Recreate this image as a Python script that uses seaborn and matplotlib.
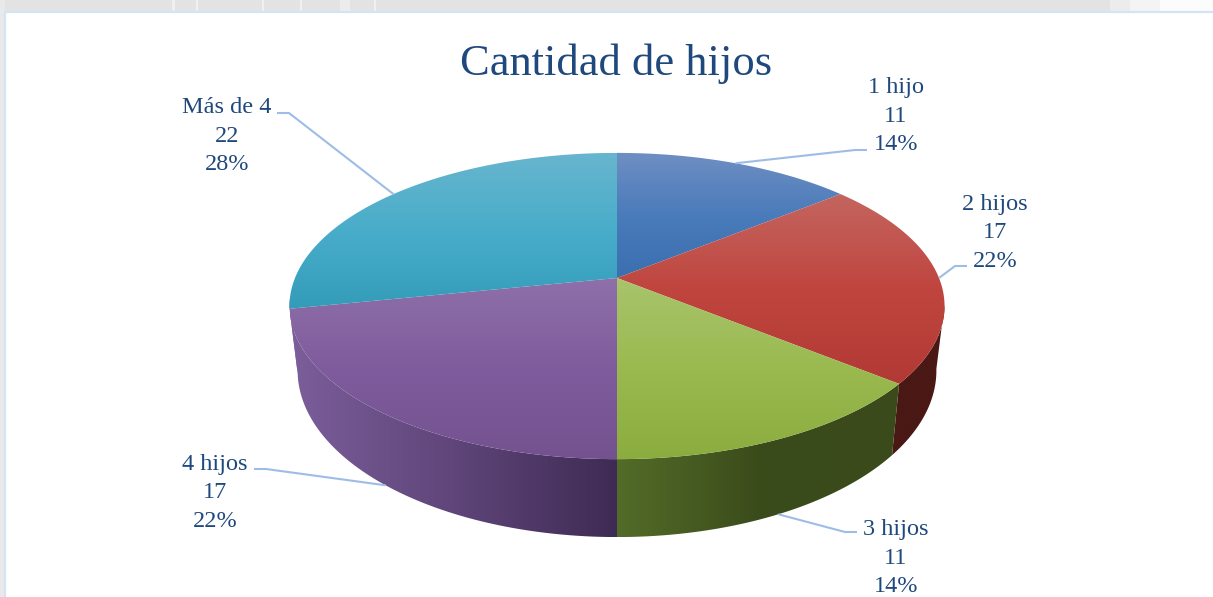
import numpy as np
import matplotlib
matplotlib.use("Agg")
import matplotlib.pyplot as plt
from matplotlib.patches import Polygon
import seaborn as sns

# data
categories = ["1 hijo", "2 hijos", "3 hijos", "4 hijos", "Más de 4"]
counts = [11, 17, 11, 17, 22]
percents = ["14%", "22%", "14%", "22%", "28%"]

# top face gradient (top to bottom), side gradient (left to right)
top_colors = [
    ["#6f8fc3", "#4a7bba", "#3b6fb0"],
    ["#c4655f", "#c0453f", "#b23a34"],
    ["#a9c46c", "#9aba50", "#8bac3e"],
    ["#8f70a9", "#7f5c9d", "#74528f"],
    ["#68b5ce", "#48adca", "#339cb9"],
]
side_colors = [
    ["#3a5a8a", "#3a5a8a"],
    ["#4a1815", "#4a1815"],
    ["#536c28", "#3b4c1b", "#3a4a1b"],
    ["#7b5e9b", "#5f4579", "#3e2b54"],
    ["#7b5e9b", "#7b5e9b"],
]
label_pos = [(896, 116), (995, 233), (896, 558), (215, 493), (227, 136)]
elbows = [[(867, 150), (855, 150)], [(967, 266), (955, 266)], [(857, 532), (845, 532)],
          [(254, 469), (266, 469)], [(277, 113), (289, 113)]]

LINE = "#9dbde6"
TEXT = "#1f497d"
CX = 617
KP = 0.183


def project(theta, a, b, y0):
    # theta in degrees clockwise from 12 o'clock, with perspective
    t = np.radians(theta)
    xx, yy = np.sin(t), np.cos(t)
    d = 1 + KP * yy
    return CX + a * xx / d, y0 - b * yy / d


def top_pt(theta):
    return project(theta, 322, 148, 278)


def low_pt(theta):
    return project(theta, 314, 161, 340)


def gradient_fill(ax, pts, colors, vertical, z):
    pts = np.array(pts)
    x0, x1 = pts[:, 0].min(), pts[:, 0].max()
    y0, y1 = pts[:, 1].min(), pts[:, 1].max()
    cmap = sns.blend_palette(colors, n_colors=256, as_cmap=True)
    ramp = np.linspace(0, 1, 256)
    img = ramp[:, None] if vertical else ramp[None, :]
    poly = Polygon(pts, closed=True, transform=ax.transData, facecolor="none", edgecolor="none")
    ax.add_patch(poly)
    im = ax.imshow(img, cmap=cmap, extent=(x0, x1, y1, y0), aspect="auto",
                   origin="upper", zorder=z, interpolation="bilinear")
    im.set_clip_path(poly)


sns.set_theme(style="white")
plt.rcParams["font.family"] = ["Liberation Serif", "DejaVu Serif"]

fig = plt.figure(figsize=(12.13, 5.97), dpi=100)
ax = fig.add_axes([0, 0, 1, 1])
ax.set_axis_off()

# page background behind the chart
ax.axhspan(0, 12, color="#e3e3e3", lw=0, zorder=0)
ax.axvspan(0, 5, color="#e9e9e9", lw=0, zorder=0)
for x0, x1, c in [(172, 175, "#efefef"), (196, 198, "#f0f0f0"), (262, 264, "#f0f0f0"),
                  (300, 302, "#f0f0f0"), (340, 350, "#ececec"), (374, 376, "#f0f0f0"),
                  (1110, 1130, "#ececec"), (1130, 1160, "#f4f4f4"), (1160, 1213, "#fcfcfc")]:
    ax.axvspan(x0, x1, ymin=1 - 12 / 597, color=c, lw=0, zorder=0)
ax.plot([5, 5, 1213], [597, 12, 12], color="#d5e4f5", lw=1.6, zorder=1)

edges = np.cumsum([0] + counts) / sum(counts) * 360

# sides first, the top faces cover what is hidden
for i in range(len(counts)):
    start, end = max(edges[i], 100), min(edges[i + 1], 262)
    if start >= end:
        continue
    th = np.linspace(start, end, 80)
    upper = np.column_stack(top_pt(th))
    lower = np.column_stack(low_pt(th))
    gradient_fill(ax, np.vstack([upper, lower[::-1]]), side_colors[i], False, 2)

for i in range(len(counts)):
    th = np.linspace(edges[i], edges[i + 1], 120)
    rim = np.column_stack(top_pt(th))
    pts = np.vstack([[CX, 278], rim])
    gradient_fill(ax, pts, top_colors[i], True, 3)

# labels and leader lines
for i, cat in enumerate(categories):
    mid = (edges[i] + edges[i + 1]) / 2
    anchor = low_pt(mid) if 130 < mid < 250 else top_pt(mid)
    xs = [p[0] for p in elbows[i]] + [anchor[0]]
    ys = [p[1] for p in elbows[i]] + [anchor[1]]
    ax.plot(xs, ys, color=LINE, lw=1.5, zorder=4, solid_capstyle="butt")
    ax.text(label_pos[i][0], label_pos[i][1], f"{cat}\n{counts[i]}\n{percents[i]}",
            ha="center", va="center", ma="center", color=TEXT, fontsize=17.5,
            linespacing=1.45, zorder=5)

ax.text(616, 64, "Cantidad de hijos", ha="center", va="center", color=TEXT, fontsize=32, zorder=5)

ax.set_xlim(0, 1213)
ax.set_ylim(597, 0)
fig.savefig("out.png", dpi=100)
plt.close(fig)
